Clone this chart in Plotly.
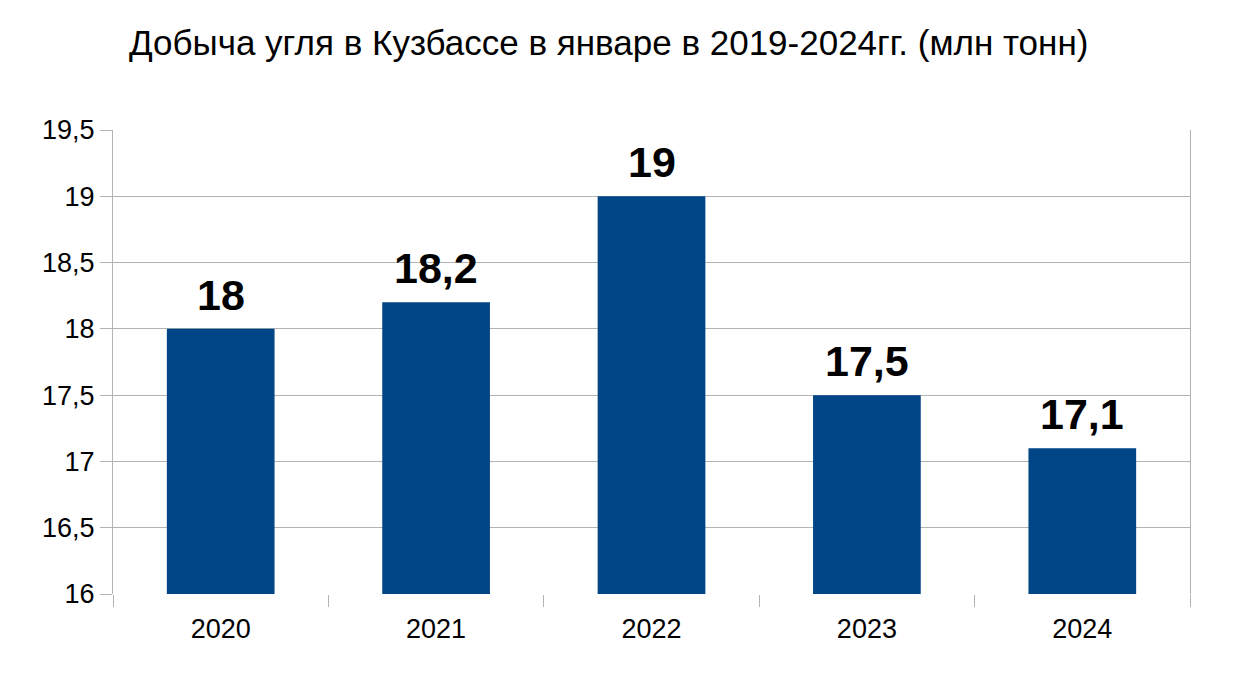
import plotly.graph_objects as go

years = ["2020", "2021", "2022", "2023", "2024"]
coal = [18, 18.2, 19, 17.5, 17.1]
labels = ["18", "18,2", "19", "17,5", "17,1"]

title = "Добыча угля в Кузбассе в январе в 2019-2024гг. (млн тонн)"

grid = "#b3b3b3"
font = "Liberation Sans, Arial, sans-serif"

fig = go.Figure()
fig.add_trace(go.Bar(x=years, y=coal, marker_color="#004586", width=0.5,
                     marker_line_width=0, hoverinfo="skip"))

# numeric-looking category names would be read as indices, so use the index
for i, (v, t) in enumerate(zip(coal, labels)):
    fig.add_annotation(x=i, y=v, text="<b>" + t + "</b>", showarrow=False,
                       yanchor="bottom", yshift=8,
                       font=dict(size=43, color="black", family=font))

fig.update_layout(
    width=1254, height=689,
    paper_bgcolor="white", plot_bgcolor="white",
    margin=dict(l=105, r=72, t=122, b=103),
    separators=", ",
    showlegend=False,
    font=dict(family=font, color="black"),
    title=dict(text=title, x=0.479, xanchor="center", y=0.949, yanchor="middle",
               font=dict(size=35, color="black", family=font)),
)
fig.update_yaxes(range=[16, 19.5], dtick=0.5, tick0=16, showgrid=True,
                 gridcolor=grid, gridwidth=1, showline=True, mirror=True,
                 linecolor=grid, linewidth=1, ticks="outside", ticklen=12,
                 tickcolor=grid, zeroline=False,
                 tickfont=dict(size=27, color="black"))
fig.update_xaxes(type="category", range=[-0.5, len(years) - 0.5],
                 showgrid=False, showline=False,
                 ticks="outside", tickson="boundaries", ticklen=12,
                 tickcolor=grid, ticklabelstandoff=16,
                 tickfont=dict(size=27, color="black"))

fig.write_html("out.html")
